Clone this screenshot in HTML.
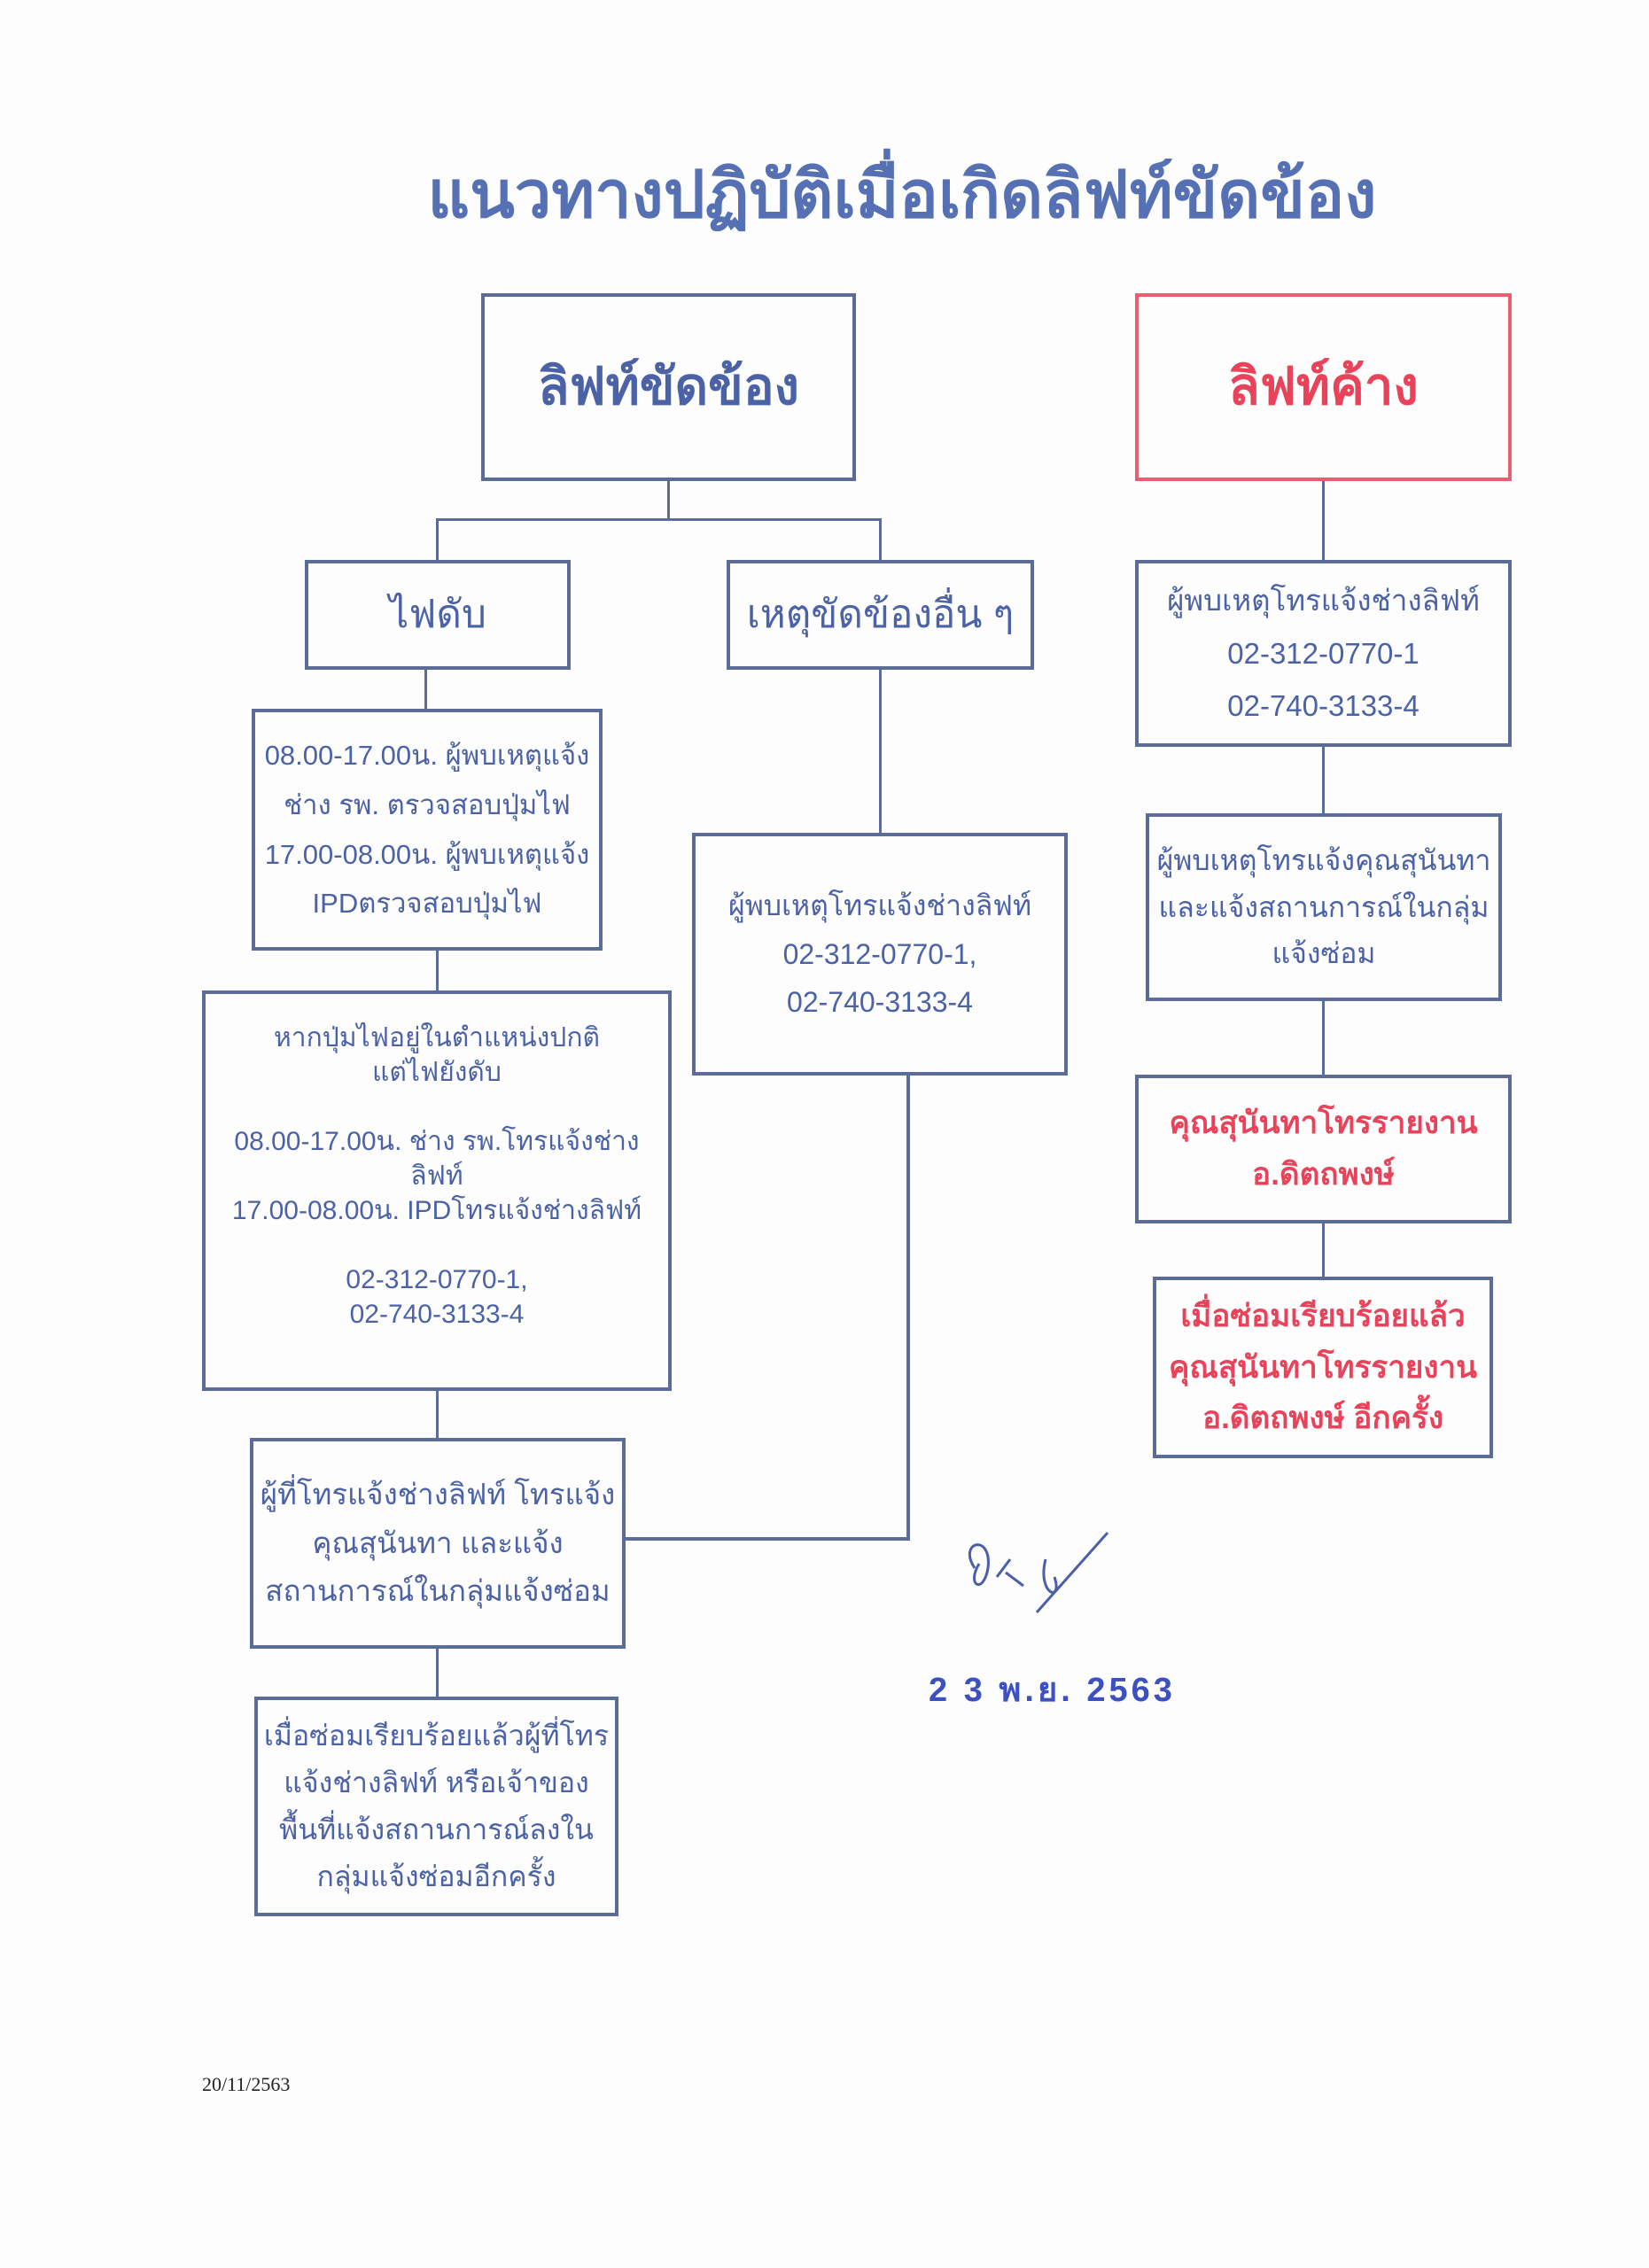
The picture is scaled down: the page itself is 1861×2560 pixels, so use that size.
<!DOCTYPE html>
<html><head><meta charset="utf-8"><style>
body{margin:0;width:1861px;height:2560px;background:#fdfdfd;position:relative;overflow:hidden;font-family:"Liberation Sans","DejaVu Sans",sans-serif;color:#4b63a6}
.b{position:absolute;border:4px solid #5b6c98;box-sizing:border-box;display:flex;flex-direction:column;align-items:center;justify-content:center;text-align:center;font-size:32px;line-height:1.65}
.r{border-color:#e8606f;color:#e8435a}
.l{position:absolute;background:#5b6c98}
.t{position:absolute;white-space:nowrap}
</style></head><body>
<div class="t" style="left:0;width:2036px;text-align:center;top:160px;font-size:74px;font-weight:bold;color:#5670b4">แนวทางปฏิบัติเมื่อเกิดลิฟท์ขัดข้อง</div>

<div class="b" style="left:543px;top:331px;width:423px;height:212px;font-size:58px;font-weight:bold">ลิฟท์ขัดข้อง</div>
<div class="b r" style="left:1281px;top:331px;width:425px;height:212px;font-size:58px;font-weight:bold">ลิฟท์ค้าง</div>

<div class="l" style="left:753px;top:543px;width:3px;height:44px"></div>
<div class="l" style="left:492px;top:585px;width:502px;height:3px"></div>
<div class="l" style="left:492px;top:585px;width:3px;height:47px"></div>
<div class="l" style="left:992px;top:585px;width:3px;height:47px"></div>

<div class="b" style="left:344px;top:632px;width:300px;height:124px;font-size:44px">ไฟดับ</div>
<div class="b" style="left:820px;top:632px;width:347px;height:124px;font-size:44px">เหตุขัดข้องอื่น ๆ</div>

<div class="l" style="left:479px;top:756px;width:3px;height:44px"></div>
<div class="b" style="left:284px;top:800px;width:396px;height:273px;font-size:31px;line-height:1.8">08.00-17.00น. ผู้พบเหตุแจ้ง<br>ช่าง รพ. ตรวจสอบปุ่มไฟ<br>17.00-08.00น. ผู้พบเหตุแจ้ง<br>IPDตรวจสอบปุ่มไฟ</div>
<div class="l" style="left:492px;top:1073px;width:3px;height:45px"></div>
<div class="b" style="left:228px;top:1118px;width:530px;height:452px;font-size:30px;line-height:1.3;justify-content:flex-start;padding-top:30px">หากปุ่มไฟอยู่ในตำแหน่งปกติ<br>แต่ไฟยังดับ<br><br>08.00-17.00น. ช่าง รพ.โทรแจ้งช่าง<br>ลิฟท์<br>17.00-08.00น. IPDโทรแจ้งช่างลิฟท์<br><br>02-312-0770-1,<br>02-740-3133-4</div>
<div class="l" style="left:492px;top:1570px;width:3px;height:53px"></div>
<div class="b" style="left:282px;top:1623px;width:424px;height:238px;font-size:33px">ผู้ที่โทรแจ้งช่างลิฟท์ โทรแจ้ง<br>คุณสุนันทา และแจ้ง<br>สถานการณ์ในกลุ่มแจ้งซ่อม</div>
<div class="l" style="left:492px;top:1861px;width:3px;height:54px"></div>
<div class="b" style="left:287px;top:1915px;width:411px;height:248px;font-size:32px">เมื่อซ่อมเรียบร้อยแล้วผู้ที่โทร<br>แจ้งช่างลิฟท์ หรือเจ้าของ<br>พื้นที่แจ้งสถานการณ์ลงใน<br>กลุ่มแจ้งซ่อมอีกครั้ง</div>

<div class="l" style="left:992px;top:756px;width:3px;height:184px"></div>
<div class="b" style="left:781px;top:940px;width:424px;height:274px;font-size:32px;line-height:1.7">ผู้พบเหตุโทรแจ้งช่างลิฟท์<br>02-312-0770-1,<br>02-740-3133-4</div>
<div class="l" style="left:1023px;top:1214px;width:4px;height:525px"></div>
<div class="l" style="left:706px;top:1735px;width:321px;height:4px"></div>

<div class="l" style="left:1492px;top:543px;width:3px;height:89px"></div>
<div class="b" style="left:1281px;top:632px;width:425px;height:211px;font-size:33px;line-height:1.8">ผู้พบเหตุโทรแจ้งช่างลิฟท์<br>02-312-0770-1<br>02-740-3133-4</div>
<div class="l" style="left:1492px;top:843px;width:3px;height:75px"></div>
<div class="b" style="left:1293px;top:918px;width:402px;height:212px;font-size:32px">ผู้พบเหตุโทรแจ้งคุณสุนันทา<br>และแจ้งสถานการณ์ในกลุ่ม<br>แจ้งซ่อม</div>
<div class="l" style="left:1492px;top:1130px;width:3px;height:83px"></div>
<div class="b r" style="left:1281px;top:1213px;width:425px;height:168px;font-size:35px;font-weight:bold;border-color:#5b6c98">คุณสุนันทาโทรรายงาน<br>อ.ดิตถพงษ์</div>
<div class="l" style="left:1492px;top:1381px;width:3px;height:60px"></div>
<div class="b r" style="left:1301px;top:1441px;width:384px;height:205px;font-size:35px;font-weight:bold;border-color:#5b6c98">เมื่อซ่อมเรียบร้อยแล้ว<br>คุณสุนันทาโทรรายงาน<br>อ.ดิตถพงษ์ อีกครั้ง</div>

<svg style="position:absolute;left:1080px;top:1720px" width="180" height="130"><path d="M20 50 C0 20,40 10,35 50 C30 80,10 70,25 45 M45 60 L60 40 M55 55 L75 70 M100 40 C90 80,120 90,110 60 M90 100 L170 10" fill="none" stroke="#4b5fa8" stroke-width="3"/></svg>
<div class="t" style="left:1048px;top:1876px;font-size:38px;font-weight:bold;color:#3c50c0;letter-spacing:4px">2 3 พ.ย. 2563</div>
<div class="t" style="left:228px;top:2340px;font-size:22px;color:#222;font-family:'Liberation Serif',serif">20/11/2563</div>
</body></html>
